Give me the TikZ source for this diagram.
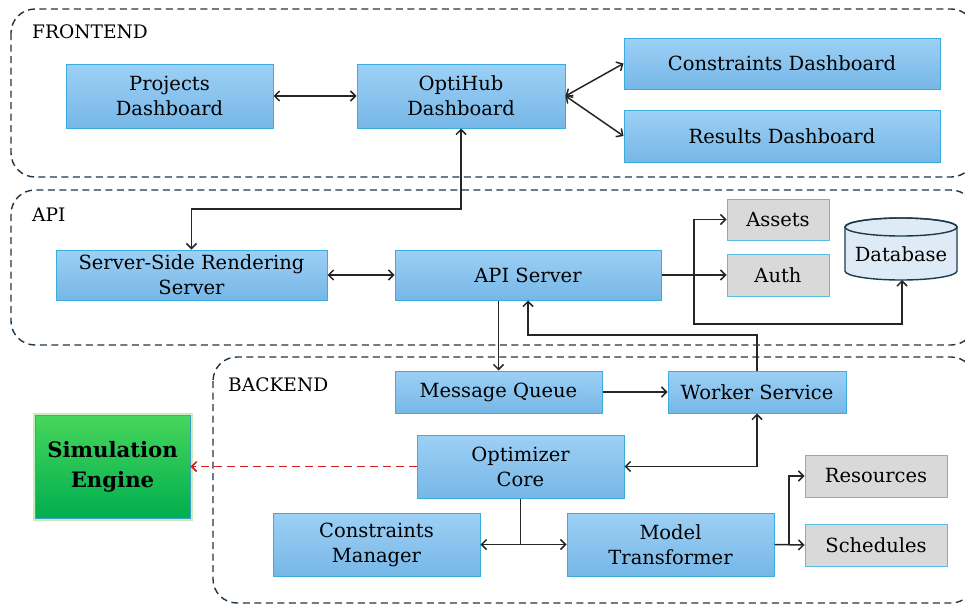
\documentclass[tikz,border=0pt]{standalone}
\usepackage{fontspec}
\setmainfont{DejaVu Serif}
\usetikzlibrary{arrows.meta,calc}
\definecolor{bboxtop}{HTML}{9DD0F5}
\definecolor{bboxbot}{HTML}{76B7E7}
\definecolor{bboxline}{HTML}{3AACE0}
\definecolor{gbox}{HTML}{D9D9D9}
\definecolor{gline}{HTML}{5BBCE3}
\definecolor{dbfill}{HTML}{DEEBF7}
\definecolor{dbline}{HTML}{1B3A4C}
\definecolor{grtop}{HTML}{47D65C}
\definecolor{grbot}{HTML}{00AE4E}
\definecolor{grglow}{HTML}{C6EDBB}
\definecolor{grline}{HTML}{3E9FC8}
\definecolor{contline}{HTML}{1F3545}
\definecolor{reddash}{HTML}{CC1F1F}
\tikzset{
  x=1pt, y=-1pt,
  base/.style={inner sep=2pt, align=center, font=\fontsize{19.5}{25}\selectfont},
  bbox/.style={base, draw=bboxline, line width=1pt, top color=bboxtop, bottom color=bboxbot},
  gboxs/.style={base, draw=gline, line width=1pt, fill=gbox},
  cont/.style={draw=contline, line width=1.4pt, dash pattern=on 7pt off 4.5pt, rounded corners=24pt},
  lbl/.style={anchor=west, inner sep=0pt, font=\fontsize{18.6}{22}\selectfont},
  conn/.style={line width=1.5pt, black!85},
  >={Straight Barb[length=5pt,width=10pt]}
}
\begin{document}
\begin{tikzpicture}
\useasboundingbox (0,0) rectangle (965,605);
% containers
\draw[cont] (11,9) rectangle (975,177);
\draw[cont] (11,190) rectangle (975,345);
\draw[cont] (213,357) rectangle (975,603);
\node[lbl] (lfront) at (32,32) {FRONTEND};
\node[lbl] (lapi) at (32,215) {API};
\node[lbl] (lback) at (228,385) {BACKEND};
% frontend
\node[bbox, minimum width=207pt, minimum height=64pt] (proj) at (169.5,96) {Projects\\Dashboard};
\node[bbox, minimum width=208pt, minimum height=64pt] (opti) at (461,96) {OptiHub\\Dashboard};
\node[bbox, minimum width=316pt, minimum height=51pt] (cdash) at (782,63.5) {Constraints Dashboard};
\node[bbox, minimum width=316pt, minimum height=52pt] (rdash) at (782,136) {Results Dashboard};
% api
\node[bbox, minimum width=271pt, minimum height=50pt] (ssr) at (191.5,275) {Server-Side Rendering\\Server};
\node[bbox, minimum width=266pt, minimum height=50pt] (apis) at (528,275) {API Server};
\node[gboxs, minimum width=102pt, minimum height=41pt] (assets) at (778,219.5) {Assets};
\node[gboxs, minimum width=102pt, minimum height=42pt] (auth) at (778,275) {Auth};
% database cylinder
\filldraw[fill=dbfill, draw=dbline, line width=1.4pt]
  (845,227) -- (845,271) arc[start angle=180, end angle=360, x radius=56pt, y radius=9pt]
  -- (957,227) arc[start angle=0, end angle=180, x radius=56pt, y radius=9pt] -- cycle;
\draw[dbline, line width=1.4pt] (901,227) ellipse[x radius=56pt, y radius=9pt];
\node[base, inner sep=0pt] (db) at (901,254) {Database};
\coordinate (dbbot) at (902,280);
% backend
\node[bbox, minimum width=207pt, minimum height=42pt] (mq) at (498.5,392) {Message Queue};
\node[bbox, minimum width=178pt, minimum height=42pt] (worker) at (757,392) {Worker Service};
\node[bbox, minimum width=207pt, minimum height=63pt] (opt) at (520.5,466.5) {Optimizer\\Core};
\node[bbox, minimum width=207pt, minimum height=63pt] (cm) at (376.5,544.5) {Constraints\\Manager};
\node[bbox, minimum width=207pt, minimum height=63pt] (mt) at (670.5,544.5) {Model\\Transformer};
\node[gboxs, minimum width=142pt, minimum height=42pt] (res) at (876,476) {Resources};
\node[gboxs, minimum width=142pt, minimum height=42pt] (sch) at (876,545) {Schedules};
% simulation engine
\node[base, font=\fontsize{21.2}{30}\selectfont\bfseries, minimum width=155pt, minimum height=103pt,
  draw=grline, line width=1pt, top color=grtop, bottom color=grbot,
  preaction={draw=grglow, line width=5pt}] (sim) at (112.5,466.5) {Simulation\\Engine};
% connectors
\draw[conn,<->] (proj.east) -- (opti.west);
\draw[conn,<->] (opti.east) -- (cdash.west);
\draw[conn,<->] (opti.east) -- (rdash.west);
\draw[conn,<->] (opti.south) -- (opti.south |- 0,209) -| (ssr.north);
\draw[conn,<->] (ssr.east) -- (apis.west);
\draw[conn,->] (apis.east) -- (auth.west);
\coordinate (j1) at (694,275);
\draw[conn,->] (j1) |- (assets.west);
\draw[conn,->] (j1) -- (694,324) -| (dbbot);
\draw[conn,->] (mq.north |- apis.south) -- (mq.north);
\draw[conn,->] (worker.north) -- (worker.north |- 0,335) -| (apis.south);
\draw[conn,->] (mq.east) -- (worker.west);
\draw[conn,<->] (worker.south) |- (opt.east);
\draw[line width=1.6pt, reddash, dash pattern=on 8pt off 5pt, ->] (opt.west) -- (sim.east);
\coordinate (j2) at (opt.south |- cm.east);
\draw[conn] (opt.south) -- (j2);
\draw[conn,->] (j2) -- (cm.east);
\draw[conn,->] (j2) -- (mt.west);
\draw[conn,->] (mt.east) -- (sch.west);
\coordinate (j3) at (789,545);
\draw[conn,->] (j3) |- (res.west);
\end{tikzpicture}
\end{document}
